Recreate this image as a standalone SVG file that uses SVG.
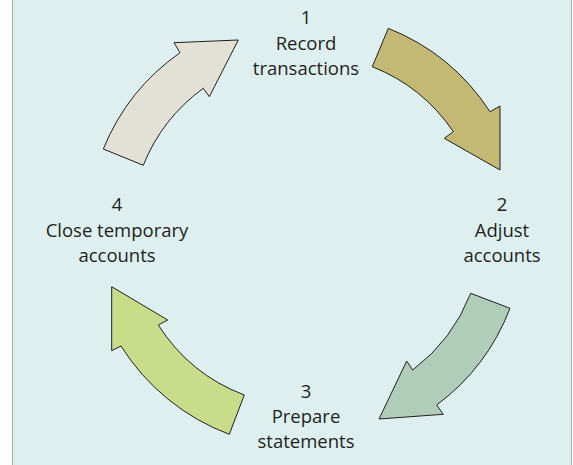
<svg xmlns="http://www.w3.org/2000/svg" width="573" height="465" viewBox="0 0 573 465">
  <style>
    .lbl { font-family: "Open Sans", "Noto Sans", "Liberation Sans", sans-serif; font-size: 18.5px; fill: #231f20; text-anchor: middle; }
    .arrow { stroke: #231f20; stroke-width: 1; stroke-linejoin: miter; }
  </style>
  <!-- panel -->
  <rect x="0" y="0" width="573" height="465" fill="#ffffff"/>
  <rect x="12" y="0" width="560" height="465" fill="#ddf0ef"/>
  <line x1="12.5" y1="0" x2="12.5" y2="465" stroke="#b4b4b4" stroke-width="1.2"/>
  <line x1="571.5" y1="0" x2="571.5" y2="465" stroke="#b4b4b4" stroke-width="1.2"/>

  <!-- cycle arrows (ring: centre 306,231; outer r 218, inner r 176) -->
  <g id="connectors">
    <path id="arrow-1-2" class="arrow" fill="#c3b874"
      d="M388.3,28.3 A218,218 0 0 1 490,111.7 L500,106 L500,170 L444.3,138.3 L453.3,131.7 A176,176 0 0 0 372.3,66.7 Z"/>
    <path id="arrow-2-3" class="arrow" fill="#b0cdb9"
      d="M510,308.3 A218,218 0 0 1 436.7,405 L443.3,414.3 L379,419 L406.7,361 L412.7,370 A176,176 0 0 0 470.7,293.3 Z"/>
    <path id="arrow-3-4" class="arrow" fill="#c8dc8a"
      d="M229.3,434.3 A218,218 0 0 1 121,346 L111.7,350.7 L111.7,286.7 L167.7,320 L158.3,325 A176,176 0 0 0 244.3,395 Z"/>
    <path id="arrow-4-1" class="arrow" fill="#e3e0d6"
      d="M103.3,149 A218,218 0 0 1 180,52.7 L174,42.7 L238.3,40 L209.3,96.7 L203.3,88.3 A176,176 0 0 0 143.3,165.3 Z"/>
  </g>

  <g id="step-1">
    <text class="lbl" x="306" y="24">1</text>
    <text class="lbl" x="306" y="49.5">Record</text>
    <text class="lbl" x="306" y="74.5">transactions</text>
  </g>
  <g id="step-2">
    <text class="lbl" x="502" y="211">2</text>
    <text class="lbl" x="502" y="237">Adjust</text>
    <text class="lbl" x="502" y="262">accounts</text>
  </g>
  <g id="step-3">
    <text class="lbl" x="306" y="398">3</text>
    <text class="lbl" x="306" y="423">Prepare</text>
    <text class="lbl" x="306" y="448">statements</text>
  </g>
  <g id="step-4">
    <text class="lbl" x="117" y="211">4</text>
    <text class="lbl" x="117" y="237">Close temporary</text>
    <text class="lbl" x="117" y="262">accounts</text>
  </g>
</svg>
